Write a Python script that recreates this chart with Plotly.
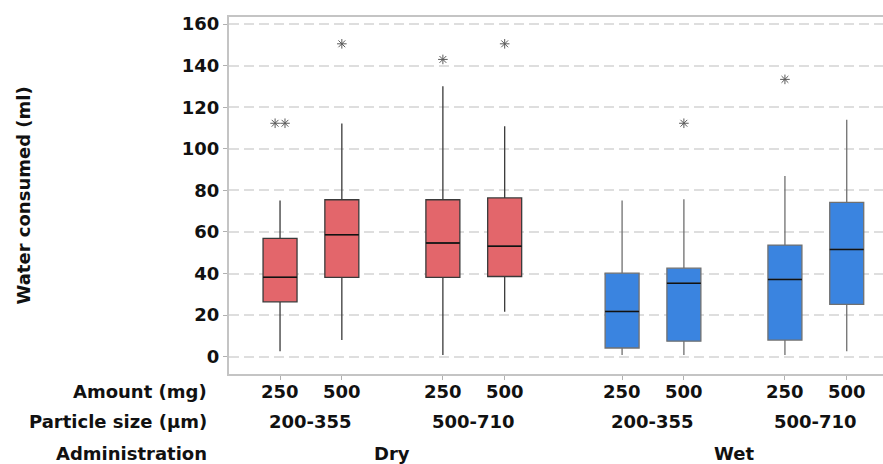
import plotly.graph_objects as go

# ---- data ----
administration = ["Dry", "Dry", "Dry", "Dry", "Wet", "Wet", "Wet", "Wet"]
particle_size = ["200-355", "200-355", "500-710", "500-710",
                 "200-355", "200-355", "500-710", "500-710"]
amount = ["250", "500", "250", "500", "250", "500", "250", "500"]

q1 = [26.4, 38.2, 38.2, 38.6, 4.2, 7.5, 8.0, 25.2]
median = [38.2, 58.7, 54.7, 53.2, 21.8, 35.3, 37.2, 51.6]
q3 = [56.9, 75.5, 75.5, 76.4, 40.2, 42.6, 53.7, 74.2]
whisker_low = [2.7, 8.0, 0.8, 21.6, 0.8, 0.8, 0.8, 2.7]
whisker_high = [75.2, 112.2, 130.1, 110.8, 75.2, 75.7, 86.9, 114.0]
outliers = [[112.3, 112.3], [150.5], [143.0], [150.5], [], [112.3], [133.4], []]

y_ticks = [0, 20, 40, 60, 80, 100, 120, 140, 160]

# ---- layout helpers ----
admin_levels = ["Dry", "Wet"]
size_levels = ["200-355", "500-710"]
amount_levels = ["250", "500"]
SIZE_GAP = 2.635
ADMIN_GAP = 2.9
BOX_W = 0.55

def xpos(i):
    a = admin_levels.index(administration[i])
    s = size_levels.index(particle_size[i])
    m = amount_levels.index(amount[i])
    return a * (SIZE_GAP + ADMIN_GAP) + s * SIZE_GAP + m

positions = [xpos(i) for i in range(len(amount))]

RED = "#E3666B"
BLUE = "#3A84E0"
FONT = "DejaVu Sans"

fig = go.Figure()

for i, x in enumerate(positions):
    wet = administration[i] == "Wet"
    fig.add_trace(go.Box(
        x=[x], q1=[q1[i]], median=[median[i]], q3=[q3[i]],
        lowerfence=[whisker_low[i]], upperfence=[whisker_high[i]],
        width=BOX_W, whiskerwidth=0,
        fillcolor=BLUE if wet else RED,
        line=dict(color="#707070" if wet else "#3a3a3a", width=1.3),
        boxpoints=False, showlegend=False, hoverinfo="skip",
    ))
    # median line in black
    fig.add_trace(go.Scatter(
        x=[x - BOX_W / 2, x + BOX_W / 2], y=[median[i], median[i]],
        mode="lines", line=dict(color="#111111", width=1.5),
        showlegend=False, hoverinfo="skip",
    ))
    # outliers (ties spread side by side)
    vals = outliers[i]
    if vals:
        xs = []
        for k, v in enumerate(vals):
            n = vals.count(v)
            idx = vals[:k].count(v)
            xs.append(x + (idx - (n - 1) / 2) * 0.16)
        fig.add_trace(go.Scatter(
            x=xs, y=vals, mode="markers",
            marker=dict(symbol="asterisk-open", size=8, color="#5a5a5a",
                        line=dict(color="#5a5a5a", width=1)),
            showlegend=False, hoverinfo="skip",
        ))

ann = []
lab_font = dict(family=FONT, size=18, color="#111111")
ROW1, ROW2, ROW3 = -17, -47, -79
# row labels
for text, shift in [("Amount (mg)", ROW1), ("Particle size (µm)", ROW2), ("Administration", ROW3)]:
    ann.append(dict(text="<b>%s</b>" % text, xref="paper", yref="paper", x=0, y=0,
                    xshift=-20, yshift=shift, xanchor="right", yanchor="middle",
                    showarrow=False, font=lab_font))
# amount labels
for i, x in enumerate(positions):
    ann.append(dict(text="<b>%s</b>" % amount[i], xref="x", yref="paper",
                    x=x, y=0, yshift=ROW1, xanchor="center", yanchor="middle",
                    showarrow=False, font=lab_font))
# particle size group labels
for a in admin_levels:
    for s in size_levels:
        xs = [positions[i] for i in range(len(amount))
              if administration[i] == a and particle_size[i] == s]
        ann.append(dict(text="<b>%s</b>" % s, xref="x", yref="paper",
                        x=sum(xs) / len(xs), y=0, yshift=ROW2,
                        xanchor="center", yanchor="middle",
                        showarrow=False, font=lab_font))
    xs = [positions[i] for i in range(len(amount)) if administration[i] == a]
    ann.append(dict(text="<b>%s</b>" % a, xref="x", yref="paper",
                    x=(min(xs) + max(xs)) / 2, y=0, yshift=ROW3,
                    xanchor="center", yanchor="middle",
                    showarrow=False, font=lab_font))
# y-axis title
ann.append(dict(text="<b>Water consumed (ml)</b>", xref="paper", yref="paper",
                x=0, y=0.5, xshift=-206, textangle=-90,
                xanchor="center", yanchor="middle", showarrow=False, font=lab_font))

fig.update_layout(
    width=883, height=464,
    margin=dict(l=229, r=0, t=17, b=90),
    paper_bgcolor="white", plot_bgcolor="white",
    showlegend=False,
    annotations=ann,
    xaxis=dict(
        range=[-0.826, 9.757],
        tickvals=positions, showticklabels=False,
        ticks="outside", ticklen=4, tickcolor="#b0b0b0",
        showline=True, linecolor="#c4c4c4", linewidth=2, mirror=True,
        showgrid=False, zeroline=False,
    ),
    yaxis=dict(
        range=[-8.3, 163.4],
        tickvals=y_ticks, ticktext=["<b>%d</b>" % v for v in y_ticks],
        ticks="outside", ticklen=4, tickcolor="#b0b0b0",
        tickfont=lab_font,
        showline=True, linecolor="#c4c4c4", linewidth=2,
        showgrid=True, gridcolor="#dedede", gridwidth=2, griddash="10px,5px",
        zeroline=False,
    ),
)

fig.write_html(
    "out.html",
    config={"displayModeBar": False},
    post_script="document.body.style.margin='0';document.body.style.overflow='hidden';",
)
